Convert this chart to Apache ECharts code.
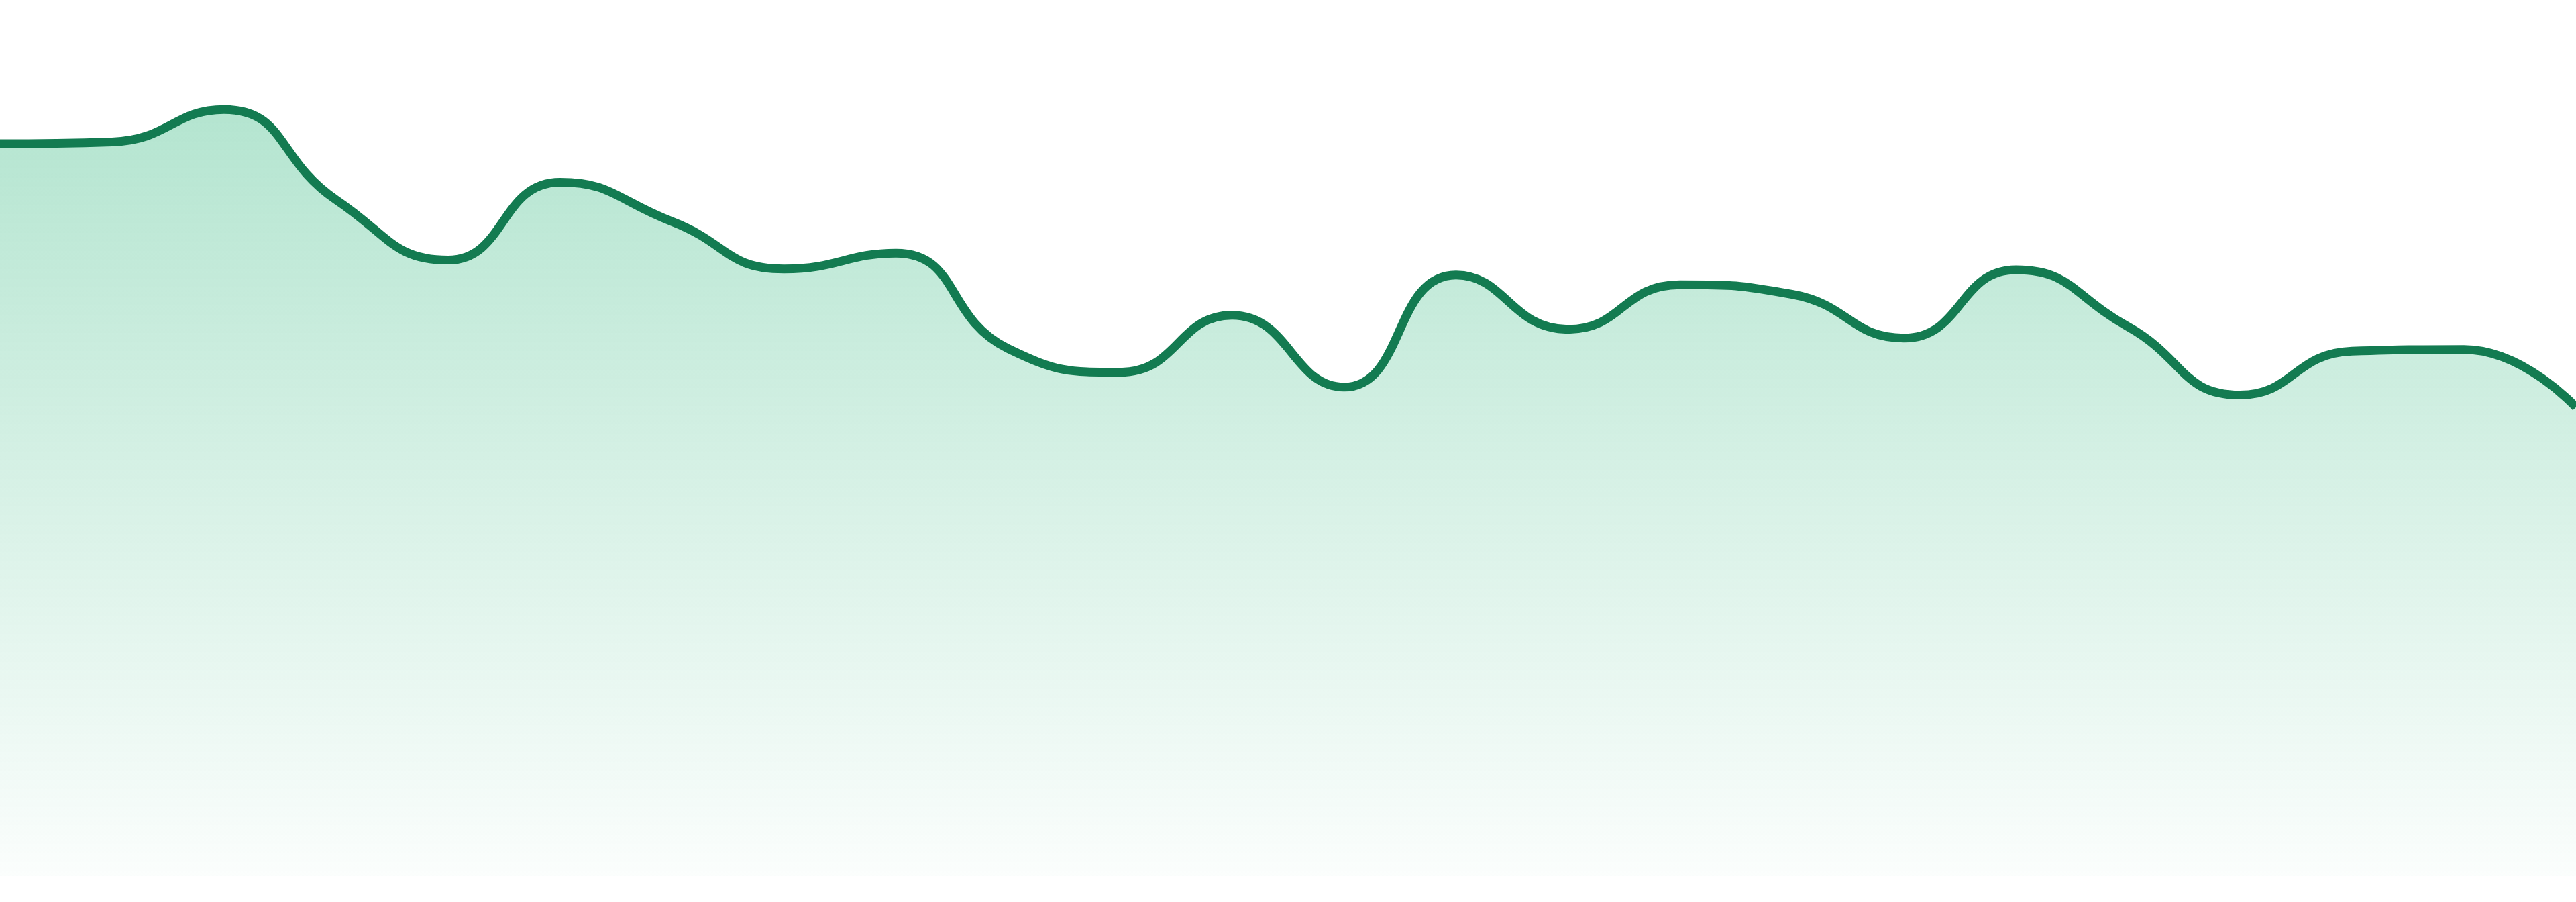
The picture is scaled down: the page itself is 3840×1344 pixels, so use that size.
<!DOCTYPE html>
<html>
<head>
<meta charset="utf-8">
<style>
html,body{margin:0;padding:0;background:#fff;overflow:hidden;}
#chart{width:100vw;height:100vh;}
</style>
<script src="https://cdn.jsdelivr.net/npm/echarts@6/dist/echarts.min.js"></script>
</head>
<body>
<div id="chart"></div>
<script>
const categories = ['1','2','3','4','5','6','7','8','9','10','11','12','13','14','15','16','17','18','19','20','21','22','23','24'];
const values = [83.6, 83.8, 87.5, 77.2, 70.3, 79.2, 74.7, 69.3, 71.1, 60.2, 57.5, 64.0, 55.8, 68.6, 62.4, 67.5, 66.4, 61.4, 69.2, 62.7, 54.9, 59.9, 60.1, 53.5];

const chart = echarts.init(document.getElementById('chart'));
chart.setOption({
  animation: false,
  grid: { left: 0, right: 0, top: 0, bottom: 39 },
  xAxis: {
    type: 'category',
    data: categories,
    boundaryGap: false,
    show: false
  },
  yAxis: {
    type: 'value',
    min: 0,
    max: 100,
    show: false
  },
  series: [{
    type: 'line',
    data: values,
    smooth: true,
    symbol: 'none',
    lineStyle: { color: '#137b51', width: 13 },
    areaStyle: {
      opacity: 1,
      color: new echarts.graphic.LinearGradient(0, 0, 0, 1, [
        { offset: 0, color: 'rgba(40,180,120,0.35)' },
        { offset: 1, color: 'rgba(40,180,120,0.02)' }
      ])
    }
  }]
});
</script>
</body>
</html>
